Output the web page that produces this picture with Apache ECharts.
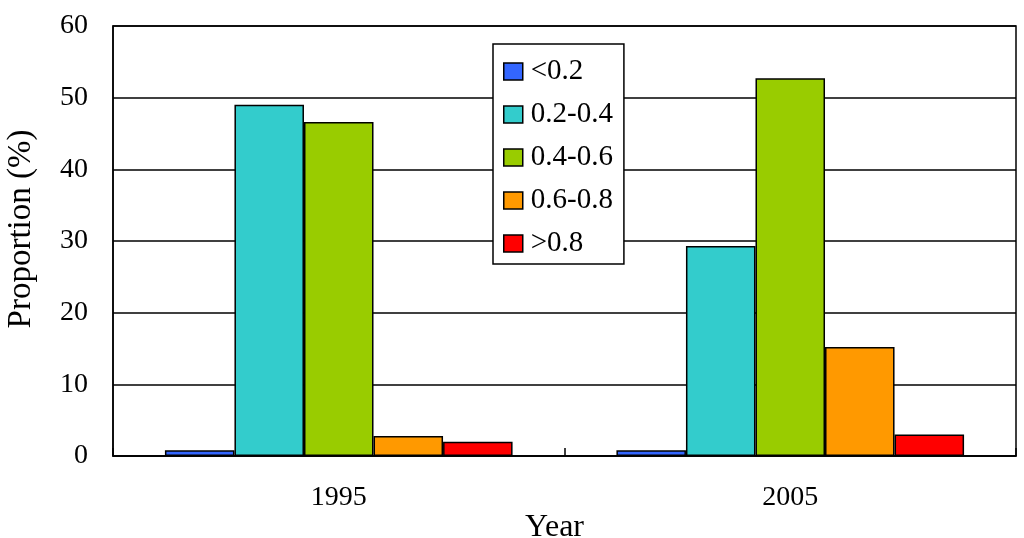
<!DOCTYPE html>
<html>
<head>
<meta charset="utf-8">
<script src="https://cdn.jsdelivr.net/npm/echarts@6/dist/echarts.min.js"></script>
<style>html,body{margin:0;padding:0;background:#fff}#c{width:1024px;height:538px}</style>
</head>
<body>
<div id="c"></div>
<script>
const years = ['1995', '2005'];
const seriesNames = ['<0.2', '0.2-0.4', '0.4-0.6', '0.6-0.8', '>0.8'];
const valsLt02 = [0.8, 0.8];
const vals0204 = [49.0, 29.3];
const vals0406 = [46.6, 52.7];
const vals0608 = [2.8, 15.2];
const valsGt08 = [2.0, 3.0];
const colors = ['#3366FF', '#33CCCC', '#99CC00', '#FF9900', '#FF0000'];
const allVals = [valsLt02, vals0204, vals0406, vals0608, valsGt08];

const font = '"Liberation Serif", "Times New Roman", serif';
const chart = echarts.init(document.getElementById('c'));
chart.setOption({
  animation: false,
  textStyle: { fontFamily: font, color: '#000' },
  grid: { left: 113, right: 8, top: 26, bottom: 82, outerBoundsMode: 'none', containLabel: false,
    show: true, borderColor: '#000', borderWidth: 1.5, backgroundColor: 'transparent' },
  legend: {
    orient: 'vertical', left: 493, top: 44,
    backgroundColor: '#fff', borderColor: '#000', borderWidth: 1.5,
    padding: [13, 11, 6, 10], itemGap: 14, itemWidth: 19, itemHeight: 17,
    icon: 'rect',
    itemStyle: { borderColor: '#000', borderWidth: 1.5 },
    textStyle: { fontFamily: font, fontSize: 29, color: '#000', padding: [0, 0, 0, 3] },
    data: seriesNames
  },
  xAxis: {
    type: 'category', data: years,
    name: 'Year', nameLocation: 'middle', nameGap: 56, nameMoveOverlap: false,
    nameTextStyle: { fontFamily: font, fontSize: 32, color: '#000', padding: [0, 20, 0, 0] },
    axisLine: { lineStyle: { color: '#000', width: 1.5 } },
    axisTick: { show: true, inside: true, length: 8, lineStyle: { color: '#000', width: 1.5 } },
    axisLabel: { fontFamily: font, fontSize: 28, color: '#000', margin: 28 }
  },
  yAxis: {
    type: 'value', min: 0, max: 60, interval: 10,
    name: 'Proportion (%)', nameLocation: 'middle', nameGap: 75, nameMoveOverlap: false,
    nameTextStyle: { fontFamily: font, fontSize: 33, color: '#000', padding: [0, 0, 0, 24] },
    axisLine: { show: true, lineStyle: { color: '#000', width: 1.5 } },
    axisTick: { show: false },
    axisLabel: { fontFamily: font, fontSize: 28, color: '#000', margin: 25 },
    splitLine: { show: true, lineStyle: { color: '#000', width: 1.5 } }
  },
  series: seriesNames.map((n, i) => ({
    name: n, type: 'bar', data: allVals[i],
    barGap: '0%', barCategoryGap: '23%',
    itemStyle: { color: colors[i], borderColor: '#000', borderWidth: 1.5 }
  }))
});
</script>
</body>
</html>
